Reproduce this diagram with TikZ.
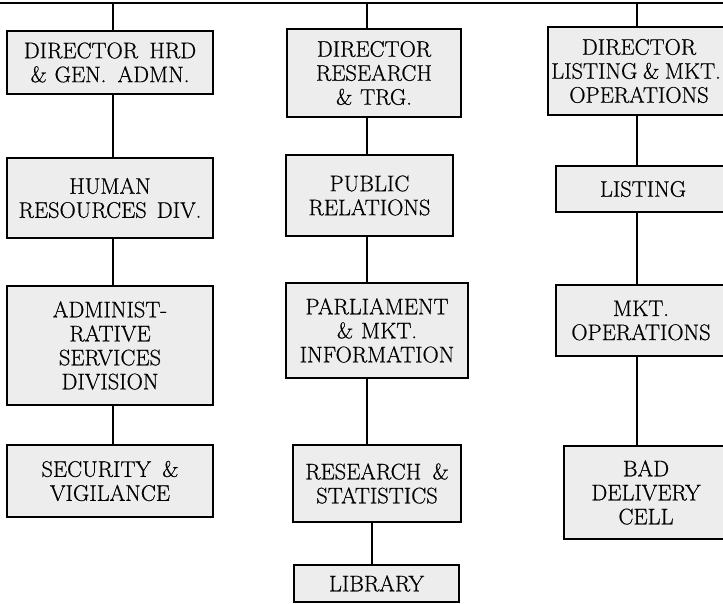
\documentclass[tikz,border=0pt]{standalone}
\usepackage{fontspec}
\newfontfamily\boxfont{Latin Modern Roman}[FakeBold=0.6]
\begin{document}
\begin{tikzpicture}[x=1pt,y=-1pt,
  box/.style={draw=black, line width=1.6pt, fill=black!7, align=center, inner sep=0pt,
    font=\boxfont\fontsize{22.5}{24}\selectfont},
  conn/.style={draw=black, line width=1.6pt}]
\useasboundingbox (0,0) rectangle (723,604);
\fill[white] (0,0) rectangle (723,604);
% column 1
\node[box, minimum width=206pt, minimum height=63pt] (A1) at (110,62.5) {DIRECTOR\hspace{0.5em}HRD\\\&\hspace{0.35em}GEN.\hspace{0.5em}ADMN.};
\node[box, minimum width=206pt, minimum height=80pt] (A2) at (110,198) {HUMAN\\RESOURCES\hspace{0.45em}DIV.};
\node[box, minimum width=206pt, minimum height=119pt] (A3) at (110,345.5) {ADMINIST-\\RATIVE\\SERVICES\\DIVISION};
\node[box, minimum width=206pt, minimum height=72pt] (A4) at (110,481) {SECURITY\hspace{0.5em}\&\\VIGILANCE};
% column 2
\node[box, minimum width=174pt, minimum height=88pt] (B1) at (374,73) {DIRECTOR\\RESEARCH\\\&\hspace{0.35em}TRG.};
\node[box, minimum width=167pt, minimum height=81pt] (B2) at (369.5,195.5) {PUBLIC\\RELATIONS};
\node[box, minimum width=182pt, minimum height=95pt] (B3) at (377,330.5) {PARLIAMENT\\\&\hspace{0.35em}MKT.\\INFORMATION};
\node[box, minimum width=168pt, minimum height=77pt] (B4) at (377,483.5) {RESEARCH\hspace{0.5em}\&\\STATISTICS};
\node[box, minimum width=165pt, minimum height=37pt] (B5) at (376.5,583.5) {LIBRARY};
% column 3
\node[box, minimum width=182pt, minimum height=88pt] (C1) at (639,71) {DIRECTOR\\\hspace{-6pt}LISTING\hspace{0.25em}\&\hspace{0.25em}MKT.\hspace{4pt}\\OPERATIONS};
\node[box, minimum width=174pt, minimum height=46pt] (C2) at (643,189) {LISTING};
\node[box, minimum width=170pt, minimum height=71pt] (C3) at (641,320.5) {MKT.\\OPERATIONS};
\node[box, minimum width=164pt, minimum height=93pt] (C4) at (646,492.5) {BAD\\DELIVERY\\CELL};
% connectors
\coordinate (TL) at (-2,3);
\coordinate (TR) at (725,3);
\coordinate (xa) at (113,0);
\coordinate (xb) at (367,0);
\coordinate (xd) at (372,0);
\coordinate (xc) at (637,0);
\draw[conn, line width=1.3pt] (TL) -- (TR);
\draw[conn] (TL -| xa) -- (A1.north -| xa);
\draw[conn] (TL -| xb) -- (B1.north -| xb);
\draw[conn] (TL -| xc) -- (C1.north -| xc);
\draw[conn] (A1.south -| xa) -- (A2.north -| xa);
\draw[conn] (A2.south -| xa) -- (A3.north -| xa);
\draw[conn] (A3.south -| xa) -- (A4.north -| xa);
\draw[conn] (B1.south -| xb) -- (B2.north -| xb);
\draw[conn] (B2.south -| xb) -- (B3.north -| xb);
\draw[conn] (B3.south -| xb) -- (B4.north -| xb);
\draw[conn] (B4.south -| xd) -- (B5.north -| xd);
\draw[conn] (C1.south -| xc) -- (C2.north -| xc);
\draw[conn] (C2.south -| xc) -- (C3.north -| xc);
\draw[conn] (C3.south -| xc) -- (C4.north -| xc);
\end{tikzpicture}
\end{document}
